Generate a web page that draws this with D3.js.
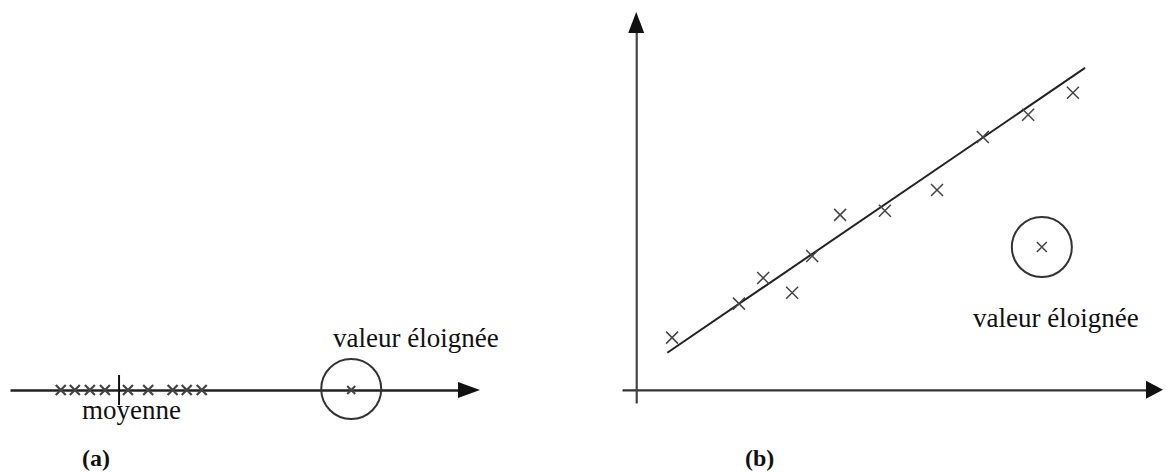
<!DOCTYPE html>
<html>
<head>
<meta charset="utf-8">
<script src="https://cdn.jsdelivr.net/npm/d3@7"></script>
<style>
  html, body { margin: 0; padding: 0; background: #fff; }
  svg { display: block; }
</style>
</head>
<body>
<svg id="chart" width="1166" height="472"></svg>
<script>
// ---------- DATA ----------
// Panel (a): one-dimensional values on a line
const clusterA = [5.4, 6.9, 8.5, 10.1, 12.55, 14.7, 17.3, 18.8, 20.4];
const outlierA = [36.3];
const meanA = 11.6;
// Panel (b): scatter around a regression line
const xB_vals = [0.68, 1.95, 2.41, 2.96, 3.34, 3.87, 4.72, 5.71, 6.58, 7.44, 8.29];
const yB_vals = [1.38, 2.28, 2.96, 2.57, 3.54, 4.63, 4.74, 5.29, 6.69, 7.28, 7.86];
const outlierB = [[7.70, 3.78]];
const fitLine = [[0.59, 0.98], [8.52, 8.52]];
// Labels
const labelOutlier = "valeur éloignée";
const labelMean = "moyenne";
const panelLabels = ["(a)", "(b)"];

// ---------- SETUP ----------
const svg = d3.select("#chart");
const ink = "#222";

function cross(g, cx, cy, h, sw, color) {
  g.append("path")
    .attr("d", `M${cx - h},${cy - h}L${cx + h},${cy + h}M${cx - h},${cy + h}L${cx + h},${cy - h}`)
    .attr("stroke", color).attr("stroke-width", sw).attr("fill", "none");
}
function label(g, x, y, size, txt, bold) {
  return g.append("text").attr("x", x).attr("y", y)
    .attr("font-family", "'Liberation Serif', serif").attr("fill", "#111")
    .attr("font-size", size).attr("font-weight", bold ? "bold" : "normal")
    .text(txt);
}

// ---------- PANEL (a) ----------
const xA = d3.scaleLinear().domain([0, 50]).range([10, 480]);
const yA = 390;
const gA = svg.append("g");

const axA = gA.append("g").attr("transform", `translate(0,${yA})`)
  .call(d3.axisBottom(xA.copy().range([10, 462])).ticks(0).tickSizeOuter(0));
axA.select(".domain").attr("stroke", ink).attr("stroke-width", 2.5);
gA.append("path")
  .attr("d", `M${xA.range()[1] - 22},${yA - 8}L${xA.range()[1]},${yA}L${xA.range()[1] - 22},${yA + 8}Z`)
  .attr("fill", "#111");

clusterA.forEach(v => cross(gA, xA(v), yA, 5, 2.2, "#444"));
outlierA.forEach(v => {
  cross(gA, xA(v), yA, 4, 2, "#444");
  gA.append("circle").attr("cx", xA(v)).attr("cy", yA - 1).attr("r", 30)
    .attr("fill", "none").attr("stroke", "#333").attr("stroke-width", 2);
});
gA.append("line")
  .attr("x1", xA(meanA)).attr("x2", xA(meanA))
  .attr("y1", yA - 15).attr("y2", yA + 15)
  .attr("stroke", "#111").attr("stroke-width", 2);

label(gA, 333, 347, 27, labelOutlier, false);
label(gA, 82, 419, 27, labelMean, false);
label(gA, 82, 466, 24, panelLabels[0], true);

// ---------- PANEL (b) ----------
const xB = d3.scaleLinear().domain([-0.27, 10]).range([622, 1163]);
const yB = d3.scaleLinear().domain([-0.35, 10]).range([403, 12]);
const gB = svg.append("g");
const x0 = xB(0), y0 = yB(0);

const axX = gB.append("g").attr("transform", `translate(0,${y0})`)
  .call(d3.axisBottom(xB.copy().range([622, 1149])).ticks(0).tickSizeOuter(0));
axX.select(".domain").attr("stroke", "#333").attr("stroke-width", 2.2);
gB.append("path")
  .attr("d", `M${xB.range()[1] - 17},${y0 - 9}L${xB.range()[1]},${y0}L${xB.range()[1] - 17},${y0 + 9}Z`)
  .attr("fill", "#111");

const axY = gB.append("g").attr("transform", `translate(${x0},0)`)
  .call(d3.axisLeft(yB.copy().range([403, 31])).ticks(0).tickSizeOuter(0));
axY.select(".domain").attr("stroke", "#444").attr("stroke-width", 2.2);
gB.append("path")
  .attr("d", `M${x0 - 8},${yB.range()[1] + 21}L${x0},${yB.range()[1]}L${x0 + 8},${yB.range()[1] + 21}Z`)
  .attr("fill", "#111");

gB.append("path")
  .datum(fitLine)
  .attr("d", d3.line().x(d => xB(d[0])).y(d => yB(d[1])))
  .attr("stroke", "#222").attr("stroke-width", 2).attr("fill", "none");

xB_vals.forEach((v, i) => cross(gB, xB(v), yB(yB_vals[i]), 6, 1.5, "#444"));
outlierB.forEach(d => {
  cross(gB, xB(d[0]), yB(d[1]), 5, 1.5, "#444");
  gB.append("circle").attr("cx", xB(d[0])).attr("cy", yB(d[1]))
    .attr("r", 30).attr("fill", "none").attr("stroke", "#333").attr("stroke-width", 2);
});

label(gB, 973, 327, 27, labelOutlier, false);
label(gB, 745, 466, 24, panelLabels[1], true);
</script>
</body>
</html>
